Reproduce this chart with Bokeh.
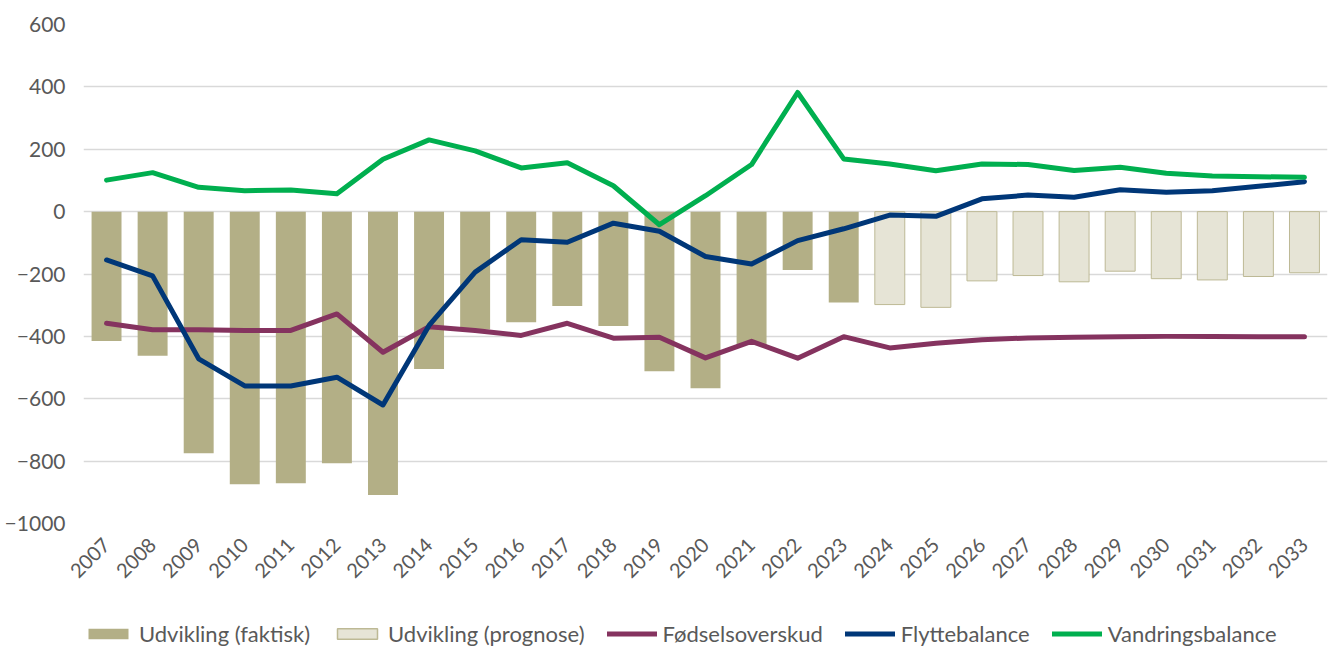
from bokeh.plotting import figure
from bokeh.layouts import column
from bokeh.models import Range1d, FactorRange, Legend, LegendItem, ColumnDataSource, FixedTicker
from bokeh.embed import file_html
from bokeh.resources import INLINE
import math

years = [str(y) for y in range(2007, 2034)]
years_faktisk = years[:17]
years_prognose = years[17:]

faktisk = [-415, -462, -775, -874, -871, -807, -909, -505, -378, -355, -303, -367, -512, -566, -428, -187, -291]
prognose = [-298, -307, -222, -205, -225, -191, -215, -219, -208, -196]
fodsel = [-358, -379, -379, -381, -381, -328, -451, -369, -381, -397, -358, -406, -403, -469, -416, -470, -401,
          -437, -422, -411, -405, -403, -401, -400, -400, -401, -401]
flytte = [-155, -206, -472, -559, -559, -531, -620, -365, -194, -90, -98, -37, -63, -144, -168, -93, -55,
          -11, -15, 41, 53, 46, 70, 62, 67, 81, 96]
vandring = [101, 125, 78, 67, 69, 57, 168, 230, 195, 140, 157, 83, -42, 51, 151, 382, 169,
            153, 131, 153, 151, 132, 142, 123, 114, 112, 110]

labels = ["Udvikling (faktisk)", "Udvikling (prognose)", "Fødselsoverskud", "Flyttebalance", "Vandringsbalance"]
y_ticks = [-1000, -800, -600, -400, -200, 0, 200, 400, 600]

TEXT = "#595959"
FONT = "Lato"
C_FAKT = "#B3AF86"
C_PROG = "#E6E4D6"
C_PROG_LINE = "#BDB995"
C_FOD = "#85335F"
C_FLY = "#003778"
C_VAN = "#00AF4F"

p = figure(x_range=FactorRange(factors=years, range_padding=0), y_range=Range1d(-1000, 600),
           width=1330, height=618, output_backend="svg", toolbar_location=None,
           min_border_left=83, min_border_right=3, min_border_top=24, min_border_bottom=95)
p.outline_line_color = None
p.background_fill_color = "white"

src_f = ColumnDataSource(dict(x=years_faktisk, top=faktisk))
src_p = ColumnDataSource(dict(x=years_prognose, top=prognose))
p.vbar(x="x", top="top", bottom=0, width=0.65, source=src_f, fill_color=C_FAKT, line_color=None)
p.vbar(x="x", top="top", bottom=0, width=0.65, source=src_p, fill_color=C_PROG, line_color=C_PROG_LINE, line_width=1)

p.line(years, fodsel, line_color=C_FOD, line_width=5, line_join="round", line_cap="round")
p.line(years, flytte, line_color=C_FLY, line_width=5, line_join="round", line_cap="round")
p.line(years, vandring, line_color=C_VAN, line_width=5, line_join="round", line_cap="round")

p.yaxis.ticker = FixedTicker(ticks=y_ticks)
p.ygrid.ticker = FixedTicker(ticks=y_ticks)
p.ygrid.grid_line_color = "#D9D9D9"
p.ygrid.grid_line_width = 1.5
p.xgrid.grid_line_color = None

for ax in (p.xaxis, p.yaxis):
    ax.axis_line_color = None
    ax.major_tick_line_color = None
    ax.minor_tick_line_color = None
    ax.major_tick_out = 0
    ax.major_tick_in = 0
    ax.major_label_text_color = TEXT
    ax.major_label_text_font = FONT
    ax.major_label_text_font_size = "21px"

p.yaxis.major_label_standoff = 18
p.xaxis.major_label_orientation = math.pi / 4
p.xaxis.major_label_standoff = 18
p.xaxis.major_label_text_font_size = "20px"

# legend strip below the chart (proxy glyphs with no visible data)
lg = figure(width=1330, height=30, x_range=Range1d(0, 1), y_range=Range1d(0, 1),
            x_axis_location=None, y_axis_location=None,
            output_backend="svg", toolbar_location=None,
            min_border_left=0, min_border_right=0, min_border_top=0, min_border_bottom=0)
lg.grid.visible = False
lg.outline_line_color = None
nan = float("nan")
g1 = lg.vbar(x=[0], top=[nan], width=0.5, fill_color=C_FAKT, line_color=None)
g2 = lg.vbar(x=[0], top=[nan], width=0.5, fill_color=C_PROG, line_color=C_PROG_LINE, line_width=1.5)
g3 = lg.line(x=[0], y=[nan], line_color=C_FOD, line_width=5, line_cap="round")
g4 = lg.line(x=[0], y=[nan], line_color=C_FLY, line_width=5, line_cap="round")
g5 = lg.line(x=[0], y=[nan], line_color=C_VAN, line_width=5, line_cap="round")

legend = Legend(items=[LegendItem(label=lab, renderers=[g]) for lab, g in zip(labels, [g1, g2, g3, g4, g5])],
                orientation="horizontal", location=(0, 1))
legend.border_line_color = None
legend.background_fill_alpha = 0
legend.label_text_color = TEXT
legend.label_text_font = FONT
legend.label_text_font_size = "22px"
legend.glyph_width = 50
legend.glyph_height = 13
legend.spacing = 22
legend.label_standoff = 6
legend.padding = 0
legend.margin = 0
lg.add_layout(legend, "center")

layout = column(p, lg, spacing=0)
open("out.html", "w").write(file_html(layout, INLINE))
